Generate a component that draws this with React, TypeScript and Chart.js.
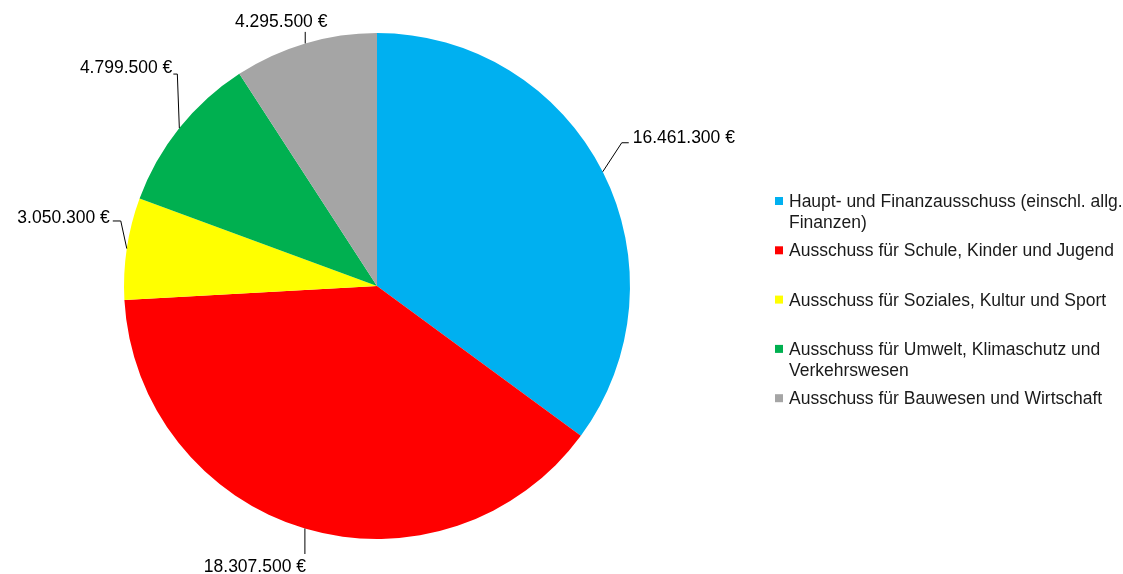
import React, { useEffect, useRef } from "react";
import { Chart, registerables } from "chart.js";

Chart.register(...registerables);

const categories = [
  "Haupt- und Finanzausschuss (einschl. allg. Finanzen)",
  "Ausschuss für Schule, Kinder und Jugend",
  "Ausschuss für Soziales, Kultur und Sport",
  "Ausschuss für Umwelt, Klimaschutz und Verkehrswesen",
  "Ausschuss für Bauwesen und Wirtschaft",
];
const values = [16461300, 18307500, 3050300, 4799500, 4295500];
const colors = ["#00B0F0", "#FF0000", "#FFFF00", "#00B050", "#A5A5A5"];

// leader-line geometry relative to each slice's outer mid point
const leaderOffsets: { pts: [number, number][]; tx: number; ty: number; align: CanvasTextAlign }[] = [
  { pts: [[19, -29], [26, -29]], tx: 30, ty: -29, align: "left" },
  { pts: [[0, 25.5]], tx: -50, ty: 43.5, align: "center" },
  { pts: [[-6, -27.6], [-14, -27.6]], tx: -17, ty: -25.6, align: "right" },
  { pts: [[-2, -54], [-6, -54]], tx: -7, ty: -55, align: "right" },
  { pts: [[0, -11.5]], tx: -24, ty: -16, align: "center" },
];

const FONT = '17.5px "Liberation Sans", Arial, sans-serif';

function fmt(v: number) {
  return v.toString().replace(/\B(?=(\d{3})+(?!\d))/g, ".") + " €";
}

const labelPlugin = {
  id: "leaderLabels",
  afterDatasetsDraw(chart: any) {
    const ctx = chart.ctx as CanvasRenderingContext2D;
    const meta = chart.getDatasetMeta(0);
    ctx.save();
    ctx.font = FONT;
    ctx.fillStyle = "#000";
    ctx.strokeStyle = "#000";
    ctx.lineWidth = 1;
    ctx.textBaseline = "alphabetic";
    meta.data.forEach((arc: any, i: number) => {
      const mid = (arc.startAngle + arc.endAngle) / 2;
      const px = arc.x + Math.cos(mid) * arc.outerRadius;
      const py = arc.y + Math.sin(mid) * arc.outerRadius;
      const o = leaderOffsets[i];
      ctx.beginPath();
      ctx.moveTo(px, py);
      o.pts.forEach(([dx, dy]) => ctx.lineTo(px + dx, py + dy));
      ctx.stroke();
      ctx.textAlign = o.align;
      ctx.fillText(fmt(values[i]), px + o.tx, py + o.ty);
    });
    ctx.restore();
  },
};

const LEGEND_X = 775;
const LEGEND_Y0 = 207;
const LEGEND_STEP = 49.3;
const LEGEND_LINE = 21;
const LEGEND_MAXW = 336;

const legendPlugin = {
  id: "sideLegend",
  afterDraw(chart: any) {
    const ctx = chart.ctx as CanvasRenderingContext2D;
    ctx.save();
    ctx.font = FONT;
    ctx.textAlign = "left";
    ctx.textBaseline = "alphabetic";
    categories.forEach((label, i) => {
      const by = LEGEND_Y0 + i * LEGEND_STEP;
      ctx.fillStyle = colors[i];
      ctx.fillRect(LEGEND_X, by - 10, 8, 8);
      // word wrap
      const words = label.split(" ");
      const lines: string[] = [];
      let cur = "";
      words.forEach((w) => {
        const t = cur ? cur + " " + w : w;
        if (ctx.measureText(t).width > LEGEND_MAXW && cur) {
          lines.push(cur);
          cur = w;
        } else cur = t;
      });
      if (cur) lines.push(cur);
      ctx.fillStyle = "#1a1a1a";
      lines.forEach((ln, j) => ctx.fillText(ln, LEGEND_X + 14, by + j * LEGEND_LINE));
    });
    ctx.restore();
  },
};

export default function App() {
  const ref = useRef<HTMLCanvasElement | null>(null);
  useEffect(() => {
    if (!ref.current) return;
    const chart = new Chart(ref.current, {
      type: "pie",
      data: {
        labels: categories,
        datasets: [
          {
            data: values,
            backgroundColor: colors,
            borderWidth: 0,
          },
        ],
      },
      options: {
        responsive: false,
        animation: false,
        layout: { padding: { left: 124, right: 493, top: 33, bottom: 35 } },
        plugins: {
          legend: { display: false },
          tooltip: { enabled: false },
        },
      },
      plugins: [labelPlugin, legendPlugin],
    });
    return () => chart.destroy();
  }, []);
  return (
    <div style={{ position: "absolute", left: 0, top: 0, width: 1123, height: 574, background: "#fff" }}>
      <canvas ref={ref} width={1123} height={574} style={{ width: 1123, height: 574 }} />
    </div>
  );
}
